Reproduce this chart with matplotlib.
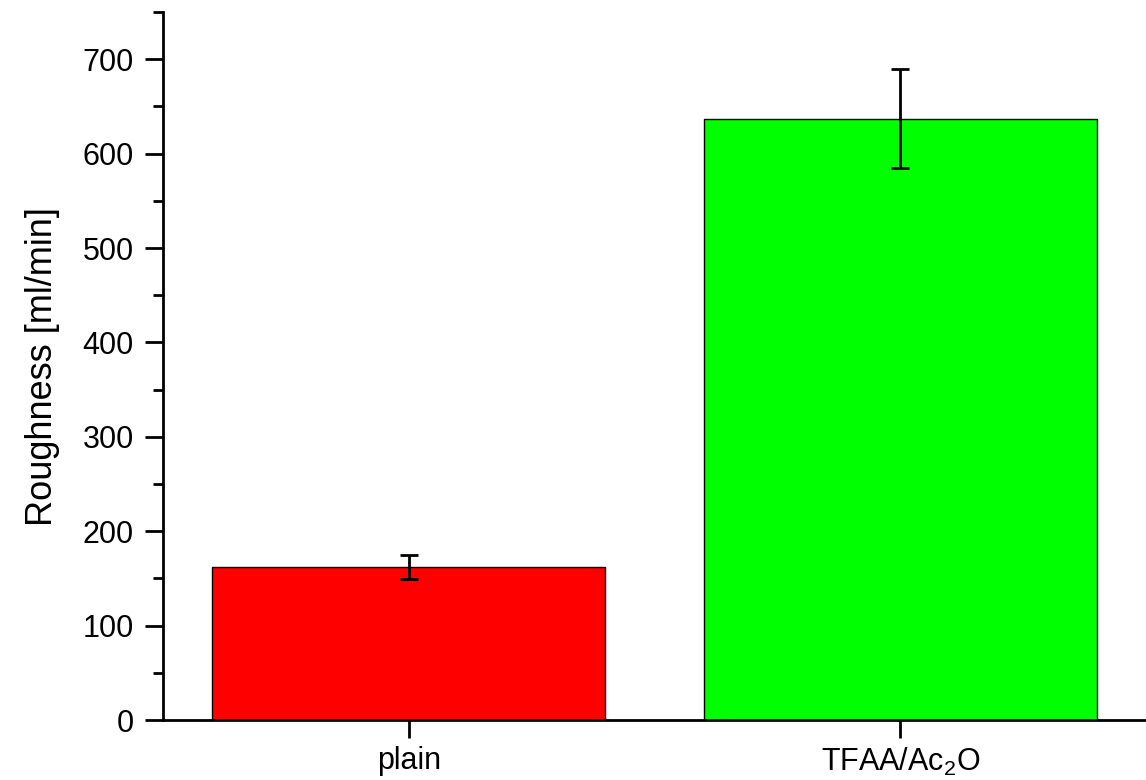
import matplotlib
matplotlib.use("Agg")
import matplotlib.pyplot as plt
from matplotlib.ticker import MultipleLocator

plt.rcParams['font.family'] = ['Liberation Sans', 'DejaVu Sans']
plt.rcParams['mathtext.fontset'] = 'custom'
plt.rcParams['mathtext.rm'] = 'Liberation Sans'
plt.rcParams['mathtext.it'] = 'Liberation Sans'
plt.rcParams['mathtext.default'] = 'rm'

categories = ["plain", "TFAA/Ac$_2$O"]
values = [162, 637]
errors = [12.5, 52.5]
colors = ["#ff0000", "#00ff00"]

fig = plt.figure(figsize=(11.46, 7.8), dpi=100)
ax = fig.add_axes([163/1146, 1 - 720/780, 1 - 163/1146, (720 - 12)/780])

x = [1, 2]
ax.bar(x, values, width=0.8, color=colors, edgecolor="black", linewidth=1.0, zorder=2)
ax.errorbar(x, values, yerr=errors, fmt="none", ecolor="black", elinewidth=2,
            capsize=6.5, capthick=2, zorder=3)

ax.set_xlim(0.5, 2.5)
ax.set_ylim(0, 750)
ax.set_xticks(x)
ax.set_xticklabels(categories)
ax.yaxis.set_major_locator(MultipleLocator(100))
ax.yaxis.set_minor_locator(MultipleLocator(50))

for side in ("top", "right"):
    ax.spines[side].set_visible(False)
for side in ("left", "bottom"):
    ax.spines[side].set_linewidth(2)

ax.tick_params(axis="both", which="major", direction="out", length=13, width=2,
               labelsize=22)
ax.tick_params(axis="y", which="minor", direction="out", length=7, width=2)
ax.tick_params(axis="y", which="major", pad=8)
ax.tick_params(axis="x", which="major", pad=6)
ax.set_ylabel("Roughness [ml/min]", fontsize=26, labelpad=16)

fig.savefig("out.png", dpi=100)
